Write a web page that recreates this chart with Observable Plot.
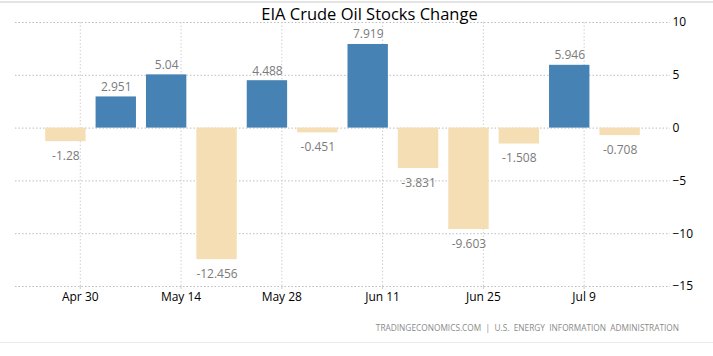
<!DOCTYPE html>
<html><head><meta charset="utf-8">
<script src="https://cdn.jsdelivr.net/npm/d3@7"></script>
<script src="https://cdn.jsdelivr.net/npm/@observablehq/plot@0.6"></script>
<style>
body{margin:0;background:#fff;}
#wrap{position:relative;width:713px;height:356px;font-family:"Open Sans",sans-serif;overflow:hidden;}
#title{position:absolute;left:0;width:739px;top:7.3px;line-height:13.5px;text-align:center;font-size:16.5px;color:#000;white-space:nowrap;}
#caption{position:absolute;right:34px;top:323px;line-height:9px;font-size:8.3px;color:#8a8a8a;white-space:pre;letter-spacing:0px;}
#topline{position:absolute;left:0;top:1px;width:713px;height:2px;background:#e4e4e4;}
#botline{position:absolute;left:0;top:342px;width:713px;height:1px;background:#ececec;}
</style></head>
<body>
<div id="wrap">
<div id="chart"></div>
<div id="topline"></div>
<div id="botline"></div>
<div id="title">EIA Crude Oil Stocks Change</div>
<div id="caption">TRADINGECONOMICS.COM  |  U.S.  ENERGY  INFORMATION  ADMINISTRATION</div>
</div>
<script>
const dates = ["2021-04-28","2021-05-05","2021-05-12","2021-05-19","2021-05-26","2021-06-02","2021-06-09","2021-06-16","2021-06-23","2021-06-30","2021-07-07","2021-07-14"];
const values = [-1.28, 2.951, 5.04, -12.456, 4.488, -0.451, 7.919, -3.831, -9.603, -1.508, 5.946, -0.708];
const labels = ["-1.28","2.951","5.04","-12.456","4.488","-0.451","7.919","-3.831","-9.603","-1.508","5.946","-0.708"];
const xTicks = ["2021-04-30","2021-05-14","2021-05-28","2021-06-11","2021-06-25","2021-07-09"];
const yTicks = [-15, -10, -5, 0, 5, 10];
const xDomain = ["2021-04-21","2021-07-21"];

const DAY = 864e5;
const data = dates.map((d, i) => ({date: new Date(d), value: values[i], label: labels[i]}));
const xTickDates = xTicks.map(d => new Date(d));
const pos = data.filter(d => d.value >= 0);
const neg = data.filter(d => d.value < 0);

const chart = Plot.plot({
  width: 713,
  height: 356,
  marginTop: 22,
  marginBottom: 70,
  marginLeft: 15,
  marginRight: 43,
  style: {fontFamily: '"Open Sans", sans-serif', fontSize: "12px", background: "transparent"},
  x: {type: "utc", domain: xDomain.map(d => new Date(d))},
  y: {domain: [-15, 10]},
  marks: [
    Plot.gridY(yTicks, {stroke: "#bdbdbd", strokeOpacity: 1, strokeDasharray: "1.5,2"}),
    Plot.gridX(xTickDates, {stroke: "#cfcfcf", strokeOpacity: 1, strokeDasharray: "1.5,2"}),
    Plot.rectY(data, {
      x1: d => new Date(+d.date - 3.5 * DAY),
      x2: d => new Date(+d.date + 3.5 * DAY),
      y: "value",
      insetLeft: 5, insetRight: 5,
      fill: d => d.value >= 0 ? "#4682B4" : "#F5DEB3"
    }),
    Plot.text(pos, {x: "date", y: "value", text: "label", dy: -10, fill: "#7b7b7b", fontSize: 12}),
    Plot.text(neg, {x: "date", y: "value", text: "label", dy: 14.5, fill: "#7b7b7b", fontSize: 12}),
    Plot.axisY({anchor: "right", ticks: yTicks, tickSize: 0, tickPadding: 2, label: null, fill: "#000", fontSize: 12}),
    Plot.axisX({ticks: xTickDates, tickFormat: d3.utcFormat("%b %-d"), tickSize: 3, tickPadding: 3, stroke: "#cccccc", label: null, fill: "#000", fontSize: 12})
  ]
});
document.getElementById("chart").appendChild(chart);
</script>
</body></html>
